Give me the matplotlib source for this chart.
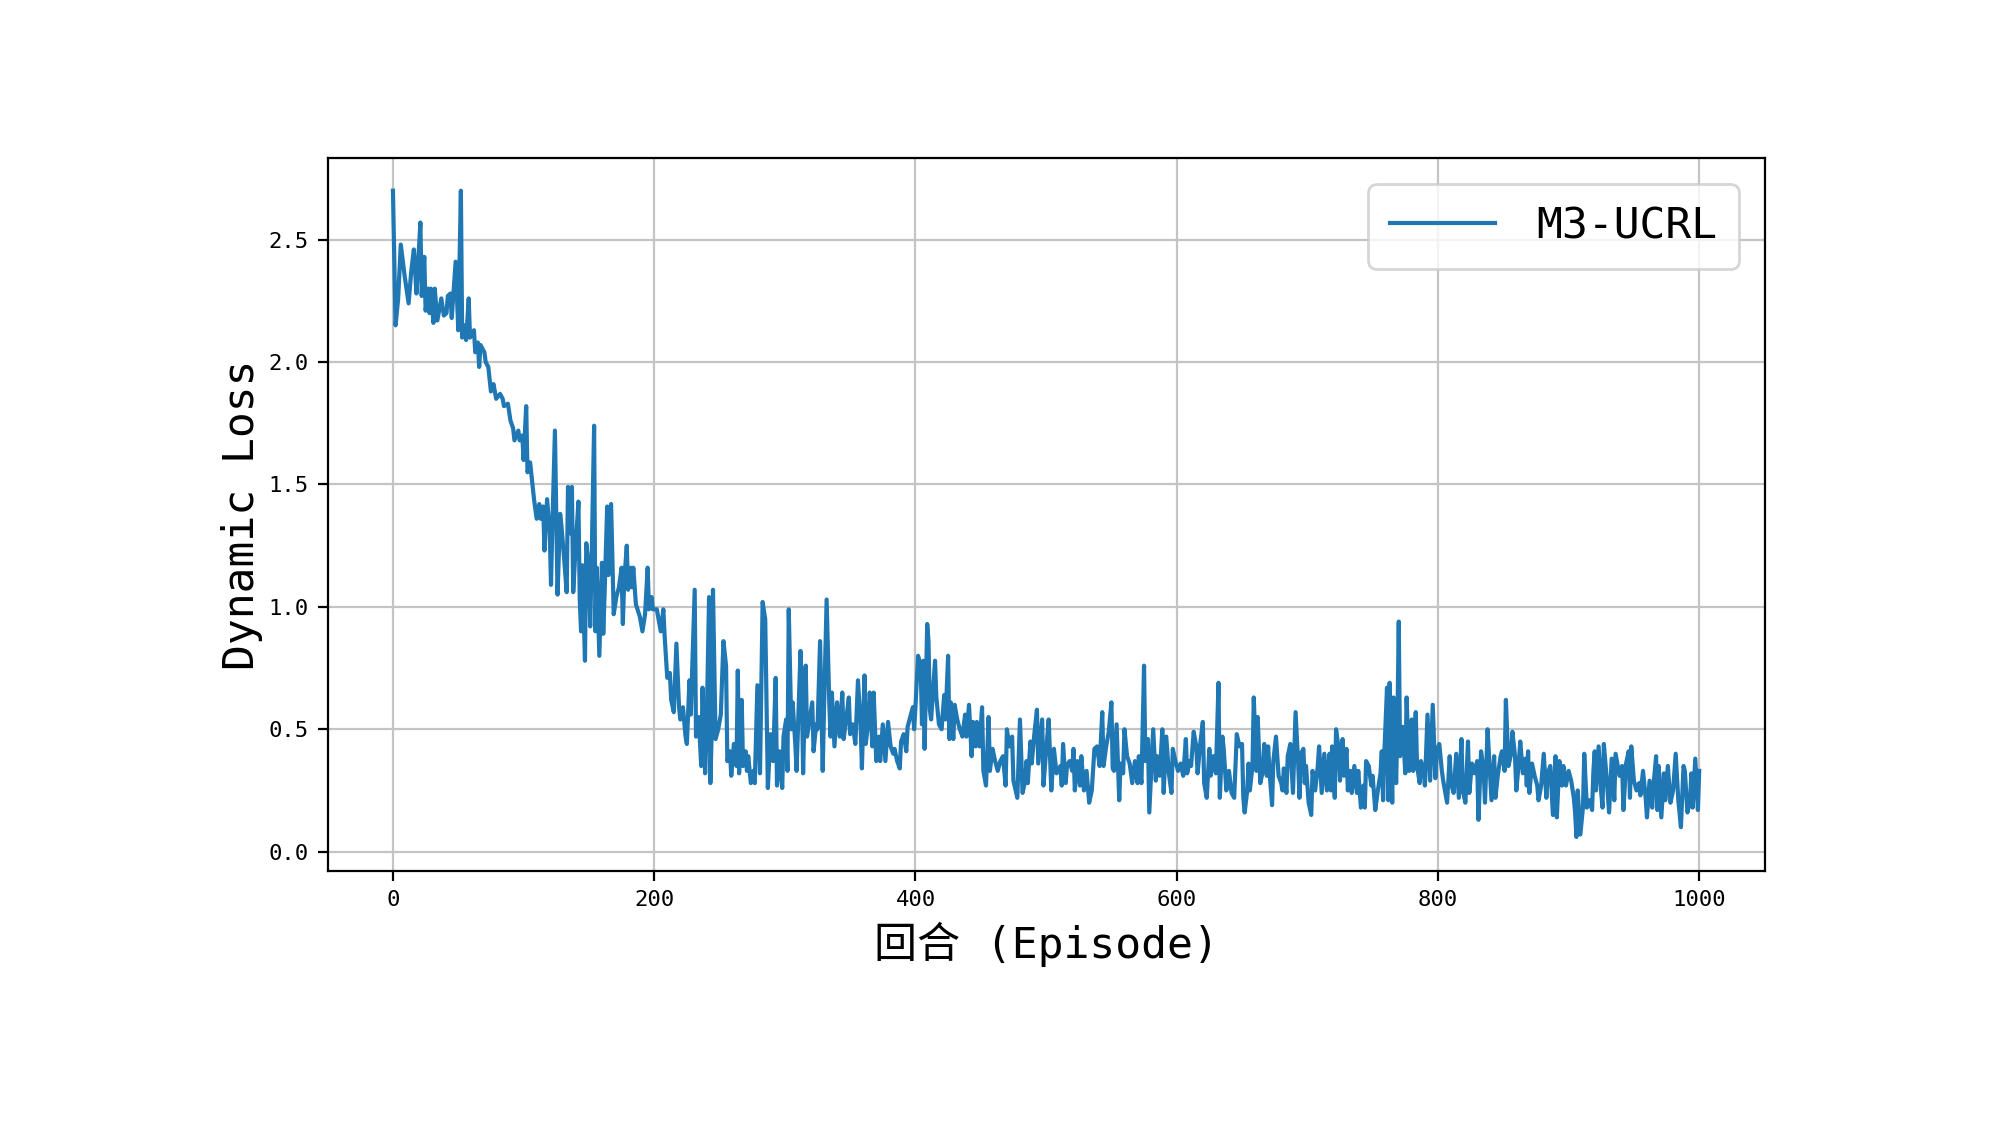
import matplotlib
matplotlib.use('Agg')
import matplotlib.pyplot as plt

plt.rcParams['font.family'] = ['DejaVu Sans Mono', 'Noto Sans CJK SC']
plt.rcParams['axes.unicode_minus'] = False

series_label = 'M3-UCRL'
x_label = '回合 (Episode)'
y_label = 'Dynamic Loss'
x_ticks = [0, 200, 400, 600, 800, 1000]
y_ticks = [0.0, 0.5, 1.0, 1.5, 2.0, 2.5]

# Episodes 0-119
ep_a = [0, 2, 4, 6, 9, 12, 14, 16, 18, 19, 21, 22, 24, 25, 27, 28, 29, 31, 32, 34,
        37, 39, 41, 42, 44, 45, 48, 50, 52, 53, 55, 56, 58, 59, 62, 63, 65, 66, 67, 70,
        71, 73, 75, 77, 79, 82, 84, 85, 88, 90, 92, 93, 96, 97, 99, 100, 102, 103, 105, 107,
        108, 110, 112, 113, 115, 116, 118]
loss_a = [2.70, 2.15, 2.26, 2.48, 2.35, 2.24, 2.37, 2.46, 2.28, 2.38, 2.57, 2.27, 2.43, 2.21, 2.30, 2.20, 2.30, 2.16, 2.30, 2.17,
          2.26, 2.19, 2.20, 2.27, 2.28, 2.18, 2.41, 2.13, 2.70, 2.10, 2.15, 2.09, 2.26, 2.10, 2.13, 2.04, 2.08, 1.98, 2.07, 2.04,
          2.00, 1.98, 1.88, 1.91, 1.85, 1.87, 1.85, 1.82, 1.83, 1.76, 1.73, 1.68, 1.72, 1.68, 1.70, 1.60, 1.82, 1.55, 1.59, 1.49,
          1.44, 1.36, 1.42, 1.36, 1.41, 1.23, 1.44]

# Episodes 120-249
ep_b = [120, 121, 122, 124, 126, 128, 129, 131, 133, 134, 136, 137, 138, 140, 142, 143, 144, 145, 147, 148,
        150, 151, 152, 154, 155, 156, 158, 160, 161, 162, 164, 165, 167, 169, 171, 173, 175, 176, 177, 179,
        180, 182, 183, 184, 186, 189, 191, 193, 195, 196, 198, 199, 202, 205, 207, 208, 210, 212, 213, 215,
        217, 219, 220, 222, 224, 225, 227, 228, 231, 232, 234, 236, 237, 239, 240, 242, 243, 244, 245, 247,
        249]
loss_b = [1.31, 1.09, 1.32, 1.72, 1.05, 1.38, 1.33, 1.20, 1.06, 1.49, 1.30, 1.49, 1.06, 1.26, 1.43, 1.03, 0.90, 1.17, 0.78, 1.26,
          1.16, 0.92, 1.16, 1.74, 0.90, 1.16, 0.80, 1.18, 0.89, 1.05, 1.41, 1.13, 1.42, 0.97, 1.04, 1.08, 1.16, 0.93, 1.10, 1.25,
          1.07, 1.16, 1.08, 1.16, 1.01, 0.96, 0.90, 0.97, 1.16, 0.99, 1.04, 0.99, 0.99, 0.90, 0.99, 0.88, 0.71, 0.73, 0.62, 0.57,
          0.85, 0.59, 0.54, 0.59, 0.47, 0.44, 0.70, 0.56, 1.07, 0.47, 0.55, 0.35, 0.67, 0.32, 0.47, 1.04, 0.28, 0.48, 1.07, 0.46,
          0.50]

# Episodes 250-380
ep_c = [251, 253, 255, 256, 258, 259, 261, 263, 264, 265, 267, 268, 270, 271, 272, 274, 276, 277, 279, 281,
        283, 285, 287, 289, 291, 293, 294, 296, 298, 299, 301, 302, 303, 305, 306, 308, 309, 312, 313, 314,
        316, 317, 319, 321, 322, 324, 325, 327, 329, 330, 332, 334, 335, 336, 338, 340, 342, 344, 345, 347,
        349, 350, 352, 354, 356, 358, 359, 361, 362, 364, 365, 367, 368, 370, 372, 373, 375, 377, 379]
loss_c = [0.56, 0.86, 0.76, 0.37, 0.41, 0.31, 0.44, 0.35, 0.74, 0.32, 0.62, 0.35, 0.41, 0.33, 0.39, 0.28, 0.33, 0.28, 0.68, 0.32,
          1.02, 0.95, 0.26, 0.48, 0.37, 0.71, 0.27, 0.41, 0.26, 0.47, 0.54, 0.33, 0.99, 0.50, 0.61, 0.44, 0.33, 0.82, 0.67, 0.32,
          0.76, 0.47, 0.54, 0.61, 0.41, 0.52, 0.50, 0.86, 0.33, 0.58, 1.03, 0.61, 0.47, 0.65, 0.43, 0.61, 0.47, 0.65, 0.46, 0.54,
          0.63, 0.48, 0.52, 0.44, 0.70, 0.52, 0.34, 0.72, 0.44, 0.54, 0.65, 0.43, 0.65, 0.37, 0.47, 0.37, 0.52, 0.37, 0.53]

# Episodes 381-510
ep_d = [381, 383, 384, 386, 388, 389, 391, 393, 394, 396, 398, 399, 400, 402, 404, 405, 406, 407, 409, 410,
        411, 412, 415, 416, 418, 420, 422, 423, 425, 426, 427, 429, 430, 432, 434, 436, 438, 439, 441, 443,
        444, 446, 447, 449, 451, 452, 454, 456, 457, 459, 461, 463, 465, 467, 469, 470, 472, 474, 475, 478,
        480, 482, 484, 485, 486, 488, 489, 491, 493, 494, 497, 498, 500, 502, 504, 506, 508]
loss_d = [0.43, 0.40, 0.42, 0.37, 0.34, 0.45, 0.48, 0.41, 0.51, 0.55, 0.59, 0.50, 0.59, 0.80, 0.76, 0.52, 0.78, 0.42, 0.93, 0.86,
          0.58, 0.54, 0.78, 0.63, 0.52, 0.50, 0.64, 0.54, 0.80, 0.46, 0.61, 0.46, 0.60, 0.54, 0.50, 0.47, 0.56, 0.47, 0.60, 0.39,
          0.53, 0.43, 0.53, 0.43, 0.59, 0.33, 0.27, 0.55, 0.33, 0.42, 0.37, 0.33, 0.37, 0.39, 0.27, 0.50, 0.43, 0.47, 0.29, 0.22,
          0.54, 0.24, 0.29, 0.37, 0.28, 0.45, 0.36, 0.48, 0.58, 0.36, 0.54, 0.27, 0.41, 0.54, 0.25, 0.42, 0.32]

# Episodes 511-640
ep_e = [511, 512, 513, 515, 516, 518, 520, 521, 522, 524, 526, 527, 529, 531, 533, 535, 537, 539, 541, 543,
        544, 546, 548, 550, 551, 552, 554, 556, 557, 559, 560, 562, 564, 566, 568, 570, 571, 573, 575, 576,
        578, 579, 581, 582, 584, 585, 587, 589, 590, 592, 594, 596, 597, 599, 601, 603, 605, 607, 608, 610,
        611, 613, 615, 616, 618, 620, 621, 623, 625, 626, 628, 630, 632, 633, 635, 636, 638, 640]
loss_e = [0.35, 0.27, 0.44, 0.28, 0.35, 0.37, 0.33, 0.42, 0.25, 0.37, 0.27, 0.39, 0.25, 0.33, 0.20, 0.25, 0.42, 0.43, 0.35, 0.57,
          0.35, 0.43, 0.49, 0.61, 0.34, 0.33, 0.52, 0.21, 0.36, 0.32, 0.50, 0.39, 0.36, 0.28, 0.37, 0.28, 0.39, 0.28, 0.76, 0.37,
          0.46, 0.16, 0.39, 0.50, 0.29, 0.39, 0.31, 0.50, 0.24, 0.47, 0.32, 0.24, 0.42, 0.37, 0.33, 0.36, 0.31, 0.46, 0.32, 0.37,
          0.35, 0.49, 0.43, 0.32, 0.44, 0.53, 0.28, 0.22, 0.42, 0.31, 0.39, 0.32, 0.69, 0.22, 0.47, 0.42, 0.25, 0.33]

# Episodes 641-755
ep_f = [642, 644, 646, 648, 650, 651, 652, 654, 655, 656, 658, 659, 661, 662, 664, 666, 667, 669, 670, 671,
        673, 674, 676, 678, 680, 681, 682, 684, 685, 687, 689, 691, 693, 694, 695, 697, 698, 699, 701, 703,
        704, 706, 708, 709, 711, 713, 715, 717, 718, 719, 721, 722, 724, 725, 727, 728, 730, 731, 733, 734,
        736, 738, 739, 741, 743, 744, 745, 747, 749, 750, 752, 754]
loss_f = [0.24, 0.22, 0.48, 0.43, 0.44, 0.22, 0.16, 0.25, 0.36, 0.25, 0.35, 0.63, 0.33, 0.55, 0.28, 0.33, 0.44, 0.31, 0.43, 0.33,
          0.19, 0.37, 0.47, 0.31, 0.28, 0.25, 0.34, 0.24, 0.39, 0.44, 0.24, 0.57, 0.36, 0.22, 0.40, 0.42, 0.28, 0.35, 0.20, 0.15,
          0.33, 0.25, 0.35, 0.43, 0.24, 0.40, 0.25, 0.40, 0.25, 0.43, 0.22, 0.50, 0.42, 0.29, 0.46, 0.31, 0.42, 0.25, 0.33, 0.24,
          0.35, 0.24, 0.33, 0.18, 0.27, 0.18, 0.37, 0.35, 0.27, 0.31, 0.17, 0.25]

# Episodes 756-885
ep_g = [756, 757, 758, 759, 761, 762, 763, 765, 766, 768, 769, 770, 771, 773, 775, 776, 778, 780, 781, 783,
        784, 786, 787, 789, 790, 792, 794, 796, 798, 799, 801, 803, 804, 807, 809, 810, 812, 814, 816, 818,
        819, 821, 823, 824, 826, 828, 830, 831, 833, 835, 836, 838, 839, 841, 843, 844, 846, 848, 849, 851,
        852, 854, 856, 857, 859, 860, 862, 863, 865, 867, 868, 869, 870, 872, 874, 876, 877, 879, 881, 883,
        884]
loss_g = [0.32, 0.41, 0.21, 0.41, 0.67, 0.21, 0.69, 0.20, 0.63, 0.28, 0.54, 0.94, 0.39, 0.51, 0.32, 0.63, 0.33, 0.54, 0.33, 0.57,
          0.35, 0.28, 0.37, 0.33, 0.27, 0.56, 0.29, 0.60, 0.30, 0.41, 0.44, 0.33, 0.29, 0.20, 0.39, 0.28, 0.24, 0.40, 0.22, 0.46,
          0.25, 0.20, 0.45, 0.24, 0.36, 0.32, 0.37, 0.13, 0.41, 0.33, 0.20, 0.50, 0.40, 0.21, 0.39, 0.22, 0.32, 0.39, 0.41, 0.33,
          0.62, 0.35, 0.40, 0.49, 0.39, 0.25, 0.37, 0.45, 0.32, 0.38, 0.27, 0.41, 0.24, 0.36, 0.31, 0.27, 0.21, 0.27, 0.40, 0.22,
          0.32]

# Episodes 886-1000
ep_h = [886, 888, 890, 891, 893, 895, 896, 898, 900, 902, 904, 905, 906, 907, 909, 911, 912, 914, 916, 918,
        919, 920, 921, 923, 925, 926, 927, 929, 931, 933, 935, 936, 937, 939, 941, 942, 944, 946, 947, 948,
        950, 952, 954, 955, 957, 959, 960, 962, 964, 965, 967, 968, 969, 971, 973, 974, 976, 978, 980, 982,
        984, 986, 988, 989, 991, 993, 994, 995, 997, 999, 1000]
loss_h = [0.35, 0.15, 0.39, 0.14, 0.37, 0.27, 0.35, 0.27, 0.33, 0.29, 0.22, 0.16, 0.06, 0.25, 0.07, 0.18, 0.40, 0.18, 0.21, 0.17,
          0.33, 0.41, 0.25, 0.43, 0.24, 0.18, 0.44, 0.31, 0.16, 0.38, 0.21, 0.40, 0.37, 0.31, 0.35, 0.17, 0.36, 0.41, 0.22, 0.43,
          0.29, 0.25, 0.28, 0.23, 0.33, 0.22, 0.14, 0.29, 0.18, 0.27, 0.39, 0.17, 0.35, 0.14, 0.32, 0.21, 0.35, 0.20, 0.25, 0.40,
          0.21, 0.10, 0.35, 0.33, 0.16, 0.21, 0.32, 0.18, 0.38, 0.17, 0.33]

episodes = ep_a + ep_b + ep_c + ep_d + ep_e + ep_f + ep_g + ep_h
dynamic_loss = loss_a + loss_b + loss_c + loss_d + loss_e + loss_f + loss_g + loss_h

fig = plt.figure(figsize=(9.995, 5.62), dpi=200)
ax = fig.add_axes([0.1639, 0.2253, 0.7188, 0.634])
ax.plot(episodes, dynamic_loss, color='#1f77b4', linewidth=1.5, label=series_label)
ax.set_xlim(-50, 1050)
ax.set_ylim(-0.078, 2.833)
ax.set_xticks(x_ticks)
ax.set_yticks(y_ticks)
ax.tick_params(labelsize=8)
ax.grid(True, color='#c4c4c4', linewidth=0.8)
ax.set_xlabel(x_label, fontsize=15.5)
ax.set_ylabel(y_label, fontsize=15.5, labelpad=2)
ax.legend(loc='upper right', fontsize=15.5, handlelength=2.45, handletextpad=0.95,
          borderpad=0.5, borderaxespad=0.6)
fig.savefig('out.png', dpi=200)
